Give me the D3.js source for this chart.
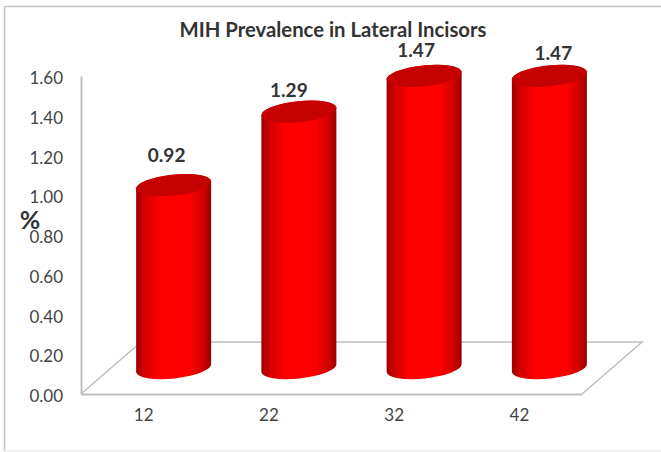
<!DOCTYPE html>
<html>
<head>
<meta charset="utf-8">
<script src="https://cdn.jsdelivr.net/npm/d3@7"></script>
<style>
  html, body { margin: 0; padding: 0; background: #fff; }
  svg { display: block; }
  text { font-family: Lato, "Noto Sans", sans-serif; }
</style>
</head>
<body>
<svg id="chart" width="661" height="452"></svg>
<script>
// Chart content
const chartTitle = "MIH Prevalence in Lateral Incisors";
const yAxisLabel = "%";
const teeth = ["12", "22", "32", "42"];
const prevalence = [0.92, 1.29, 1.47, 1.47];
const yTicks = [0, 0.2, 0.4, 0.6, 0.8, 1.0, 1.2, 1.4, 1.6];

// Hand-placed data label shifts, relative to each cylinder's top centre
const labelShiftX = [-7, -10, -8, 4];
const labelShiftY = [-30, -21, -26, -23];

// Plot geometry
const plotLeft = 81, plotRight = 582, plotBottom = 394, plotTop = 76;
const depthX = 60, depthY = -52;   // oblique floor depth
const cylWidth = 75, tiltRise = 4, capRy = 10.5;

const svg = d3.select("#chart");
const x = d3.scaleBand().domain(teeth).range([plotLeft, plotRight]);
const y = d3.scaleLinear().domain([0, 1.6]).range([plotBottom, plotTop]);

// Cylinder shading runs across the body
const defs = svg.append("defs");
const bodyShade = defs.append("linearGradient").attr("id", "bodyShade");
[[0, "#9c0000"], [0.1, "#cf0000"], [0.3, "#fb0000"], [0.5, "#ff0000"],
 [0.72, "#fb0000"], [0.9, "#cf0000"], [1, "#980000"]].forEach(([o, c]) =>
  bodyShade.append("stop").attr("offset", o).attr("stop-color", c));

// Outer frame
svg.append("path")
  .attr("d", "M661,6.5 H4.5 V451")
  .attr("fill", "none").attr("stroke", "#c4c4c4").attr("stroke-width", 1.5);
svg.append("path")
  .attr("d", "M4.5,451 H661")
  .attr("fill", "none").attr("stroke", "#ececec").attr("stroke-width", 1.5);

// Floor of the 3D plot area
const axisGrey = "#c0c0c0";
svg.append("path")
  .attr("d", d3.line()([
    [plotLeft, plotBottom],
    [plotLeft + depthX, plotBottom + depthY],
    [plotRight + depthX, plotBottom + depthY],
    [plotRight, plotBottom]
  ]))
  .attr("fill", "none").attr("stroke", axisGrey).attr("stroke-width", 1.6);

// Axes
const yAxis = svg.append("g")
  .attr("transform", `translate(${plotLeft},0)`)
  .call(d3.axisLeft(y).tickValues(yTicks).tickFormat(d3.format(".2f")).tickSize(0).tickPadding(18));
const xAxis = svg.append("g")
  .attr("transform", `translate(0,${plotBottom})`)
  .call(d3.axisBottom(x).tickSize(0).tickPadding(15));
[yAxis, xAxis].forEach(a => {
  a.select(".domain").attr("stroke", axisGrey).attr("stroke-width", 2);
  a.selectAll("text").attr("fill", "#444").style("font-family", "Lato, sans-serif");
});
yAxis.selectAll("text").style("font-size", "17px").attr("dy", "0.45em");
xAxis.selectAll("text").style("font-size", "17px");

// Cylinders stand halfway back on the floor
const cx = d => x(d) + x.bandwidth() / 2 + depthX / 2;
const cy = v => y(v) + depthY / 2;
const a = cylWidth / 2;
const rx = Math.hypot(a, tiltRise);
const tilt = -Math.atan2(tiltRise, a) * 180 / Math.PI;

const bars = svg.append("g").selectAll("g")
  .data(teeth.map((t, i) => ({ t, v: prevalence[i], i })))
  .join("g");

bars.append("path")
  .attr("fill", "url(#bodyShade)")
  .attr("d", d => {
    const c = cx(d.t), top = cy(d.v), base = cy(0);
    return `M${c - a},${top + tiltRise} L${c - a},${base + tiltRise}` +
      ` A${rx},${capRy} ${tilt} 0 0 ${c + a},${base - tiltRise}` +
      ` L${c + a},${top - tiltRise}` +
      ` A${rx},${capRy} ${tilt} 0 0 ${c - a},${top + tiltRise} Z`;
  });

bars.append("ellipse")
  .attr("rx", rx).attr("ry", capRy)
  .attr("fill", "#c40000")
  .attr("transform", d => `translate(${cx(d.t)},${cy(d.v)}) rotate(${tilt})`);

// Data labels
bars.append("text")
  .attr("x", d => cx(d.t) + labelShiftX[d.i])
  .attr("y", d => cy(d.v) + labelShiftY[d.i])
  .attr("dy", "0.36em")
  .attr("text-anchor", "middle")
  .attr("font-weight", 700).attr("font-size", 19).attr("fill", "#333")
  .text(d => d.v.toFixed(2));

// Title and y axis caption
svg.append("text")
  .attr("x", 333).attr("y", 37)
  .attr("text-anchor", "middle")
  .attr("font-weight", 700).attr("font-size", 20).attr("fill", "#333")
  .attr("textLength", 307).attr("lengthAdjust", "spacingAndGlyphs")
  .text(chartTitle);
svg.append("text")
  .attr("x", 30).attr("y", 229)
  .attr("text-anchor", "middle")
  .attr("font-weight", 700).attr("font-size", 25).attr("fill", "#333")
  .text(yAxisLabel);
</script>
</body>
</html>
